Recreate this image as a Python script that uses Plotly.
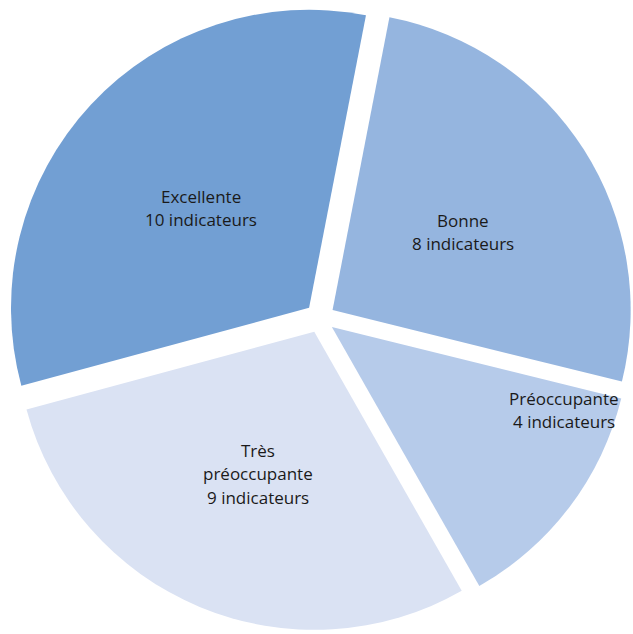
import plotly.graph_objects as go

categories = ["Bonne", "Préoccupante", "Très préoccupante", "Excellente"]
values = [8, 4, 9, 10]
label_lines = [["Bonne"], ["Préoccupante"], ["Très", "préoccupante"], ["Excellente"]]
colors = ["#95b5df", "#b6cbea", "#dae2f3", "#729fd3"]

W, H = 633, 634
# label anchor (pixel) for the first line of each label
label_pos = [(463, 220), (564, 398), (258, 450), (201, 196)]
line_gap = 23.5

fig = go.Figure(go.Pie(
    labels=categories,
    values=values,
    textinfo="none",
    sort=False,
    direction="clockwise",
    rotation=11,
    pull=[0.05] * len(values),
    marker=dict(colors=colors, line=dict(width=0)),
    hoverinfo="skip",
    showlegend=False,
    domain=dict(x=[7 / W, 1], y=[1 - 633 / H, 1 - 3 / H]),
))

for lines, v, (px, py) in zip(label_lines, values, label_pos):
    all_lines = lines + [f"{v} indicateurs"]
    for k, t in enumerate(all_lines):
        fig.add_annotation(
            x=px / W, y=1 - (py + k * line_gap) / H,
            xref="paper", yref="paper",
            text=t, showarrow=False,
            xanchor="center", yanchor="middle",
            font=dict(family="Open Sans, sans-serif", size=17, color="#1a1a1a"),
        )

fig.update_layout(
    width=W, height=H,
    margin=dict(l=0, r=0, t=0, b=0),
    paper_bgcolor="white",
    plot_bgcolor="white",
)

fig.write_html("out.html", config={"displayModeBar": False},
               post_script="document.body.style.margin='0';")
